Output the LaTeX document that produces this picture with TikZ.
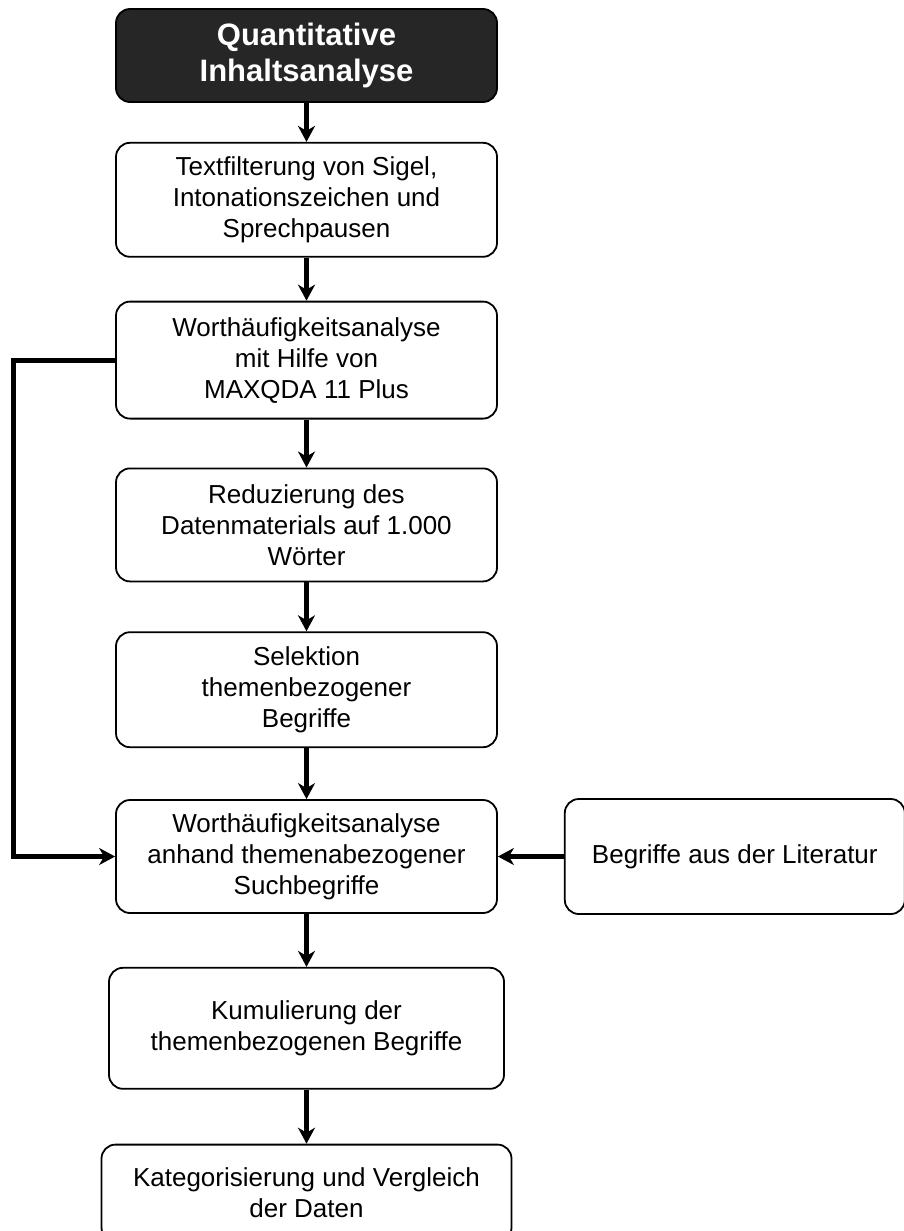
\documentclass[tikz,border=0pt]{standalone}
\usepackage{fontspec}
\setmainfont{Liberation Sans}
\usetikzlibrary{arrows.meta,positioning}
\definecolor{darkbox}{HTML}{262626}

\begin{document}
\begin{tikzpicture}[->, >={Stealth[length=16pt,width=17pt,inset=5pt]}, line width=5pt, node distance=48pt]
\tikzstyle{box}=[draw=black,line width=1.8pt,rounded corners=14pt,fill=white,text=black,align=center,inner sep=0pt,minimum width=381pt,minimum height=114pt,font=\fontsize{26}{31}\selectfont]
\tikzstyle{head}=[box,fill=darkbox,text=white,minimum height=93pt,font=\fontsize{31}{36}\selectfont\bfseries]
\useasboundingbox (0,0) rectangle (904pt,-1231pt);
\node[head] (Q) at (306.5pt,-55.5pt) {Quantitative\\Inhaltsanalyse};
\node[box]  (T)[below=39pt of Q] {Textfilterung von Sigel,\\Intonationszeichen und\\Sprechpausen};
\node[box]  (M)[below=43pt of T, minimum height=117pt] {Worthäufigkeitsanalyse\\mit Hilfe von\\MAXQDA 11 Plus};
\node[box]  (R)[below=48pt of M, minimum height=113pt] {Reduzierung des\\Datenmaterials auf 1.000\\Wörter};
\node[box]  (S)[below=49pt of R, minimum height=115pt] {Selektion\\themenbezogener\\Begriffe};
\node[box]  (W)[below=51pt of S, minimum height=113pt] {Worthäufigkeitsanalyse\\anhand themenabezogener\\Suchbegriffe};
\node[box]  (L)[right=66pt of W, minimum width=340pt, minimum height=115pt] {Begriffe aus der Literatur};
\node[box]  (K)[below=53pt of W, minimum width=395pt, minimum height=121pt] {Kumulierung der\\themenbezogenen Begriffe};
\node[box]  (V)[below=54pt of K, minimum width=410pt, minimum height=97pt] {Kategorisierung und Vergleich\\der Daten};
\draw (Q) -- (T);
\draw (T) -- (M);
\draw (M) -- (R);
\draw (R) -- (S);
\draw (S) -- (W);
\draw (W) -- (K);
\draw (K) -- (V);
\draw (L) -- (W);
\draw (M.west) -- ++(-102pt,0) |- (W.west);
\end{tikzpicture}
\end{document}
